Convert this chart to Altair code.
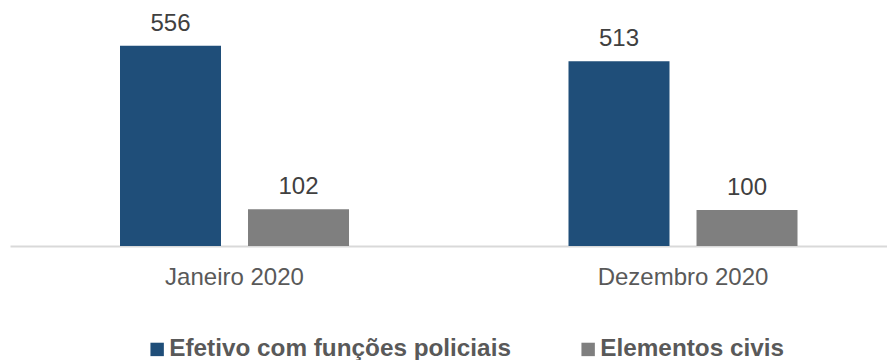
import altair as alt
import pandas as pd

periodos = ["Janeiro 2020", "Dezembro 2020"]
series = ["Efetivo com funções policiais", "Elementos civis"]
valores_policiais = [556, 513]
valores_civis = [102, 100]
cores = ["#1F4E79", "#7F7F7F"]

rows = []
for i, p in enumerate(periodos):
    rows.append({"periodo": p, "serie": series[0], "valor": valores_policiais[i]})
    rows.append({"periodo": p, "serie": series[1], "valor": valores_civis[i]})
df = pd.DataFrame(rows)

FONT = "Liberation Sans, Arial, sans-serif"

base = alt.Chart(df).encode(
    x=alt.X(
        "periodo:N",
        sort=periodos,
        scale=alt.Scale(paddingInner=0.4894, paddingOuter=0.2224, align=0.5514),
        axis=alt.Axis(
            title=None,
            labelAngle=0,
            ticks=False,
            grid=False,
            domainColor="#D9D9D9",
            domainWidth=2,
            labelFont=FONT,
            labelFontSize=24,
            labelColor="#595959",
            labelPadding=19,
        ),
    ),
    xOffset=alt.XOffset(
        "serie:N", sort=series, scale=alt.Scale(paddingInner=0.211, paddingOuter=0)
    ),
    y=alt.Y("valor:Q", scale=alt.Scale(domain=[0, 600]), axis=None),
)

bars = base.mark_bar().encode(
    color=alt.Color(
        "serie:N",
        sort=series,
        scale=alt.Scale(domain=series, range=cores),
        legend=alt.Legend(
            orient="none",
            legendX=135,
            legendY=307,
            direction="horizontal",
            title=None,
            symbolType="square",
            symbolSize=180,
            symbolStrokeWidth=0,
            labelFont=FONT,
            labelFontSize=24.3,
            labelFontWeight="bold",
            labelColor="#595959",
            labelOffset=0,
            columnPadding=65,
            labelLimit=0,
        ),
    )
)

text = base.mark_text(
    dy=-15, baseline="alphabetic", fontSize=24, font=FONT, color="#404040"
).encode(text="valor:Q")

chart = (
    alt.layer(bars, text)
    .properties(
        width=877,
        height=216,
        autosize=alt.AutoSizeParams(type="none"),
        padding={"left": 2, "top": 22, "right": 0, "bottom": 114},
    )
    .configure_view(stroke=None)
)

chart.save("out.html", embed_options={"renderer": "svg", "actions": False})
